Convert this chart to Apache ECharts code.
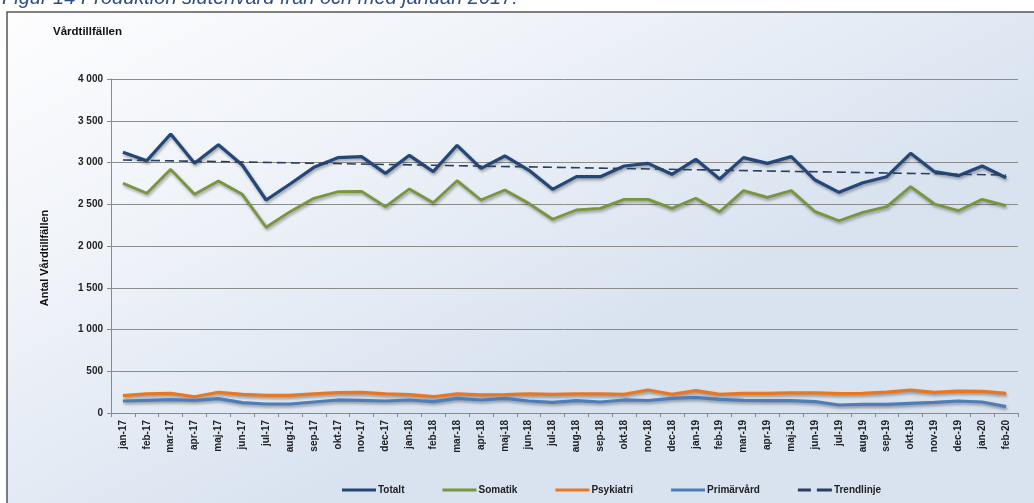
<!DOCTYPE html>
<html>
<head>
<meta charset="utf-8">
<script src="https://cdn.jsdelivr.net/npm/echarts@6/dist/echarts.min.js"></script>
<style>
html,body{margin:0;padding:0;background:#fff;}
#c{width:1034px;height:503px;}
</style>
</head>
<body>
<div id="c"></div>
<script>
const categories = ["jan-17","feb-17","mar-17","apr-17","maj-17","jun-17","jul-17","aug-17","sep-17","okt-17","nov-17","dec-17",
"jan-18","feb-18","mar-18","apr-18","maj-18","jun-18","jul-18","aug-18","sep-18","okt-18","nov-18","dec-18",
"jan-19","feb-19","mar-19","apr-19","maj-19","jun-19","jul-19","aug-19","sep-19","okt-19","nov-19","dec-19",
"jan-20","feb-20"];

const totalt = [3122,3022,3341,2990,3213,2970,2551,2743,2942,3058,3070,2870,
3086,2890,3206,2930,3078,2910,2679,2830,2830,2958,2990,2859,
3038,2802,3058,2990,3070,2790,2643,2758,2830,3110,2890,2842,
2958,2818];

const somatik = [2751,2631,2918,2619,2778,2619,2224,2411,2571,2650,2655,2471,
2683,2519,2782,2551,2671,2511,2320,2431,2451,2559,2559,2451,
2571,2411,2663,2583,2663,2411,2303,2403,2471,2711,2503,2423,
2559,2483];

const psykiatri = [207,228,236,195,248,224,212,212,228,243,248,228,
219,195,228,216,219,228,224,228,228,224,275,224,
267,224,236,236,240,240,232,236,251,275,248,263,
259,236];

const primarvard = [144,152,160,152,172,124,108,108,132,156,152,144,
156,136,176,156,176,144,128,148,132,156,150,176,
188,164,152,148,148,136,96,104,104,116,128,144,
132,76];

const trendStart = 3030;
const trendEnd = 2850;

const yTicks = {min:0, max:4000, interval:500};

const trend = categories.map((c,i)=> i===0 ? trendStart : (i===categories.length-1 ? trendEnd : null));

const chart = echarts.init(document.getElementById('c'), null, {renderer:'canvas'});
const font = 'Liberation Sans, Arial, sans-serif';
const narrow = 'Liberation Sans Narrow, Arial Narrow, Liberation Sans, sans-serif';
const shadow = {shadowColor:'rgba(0,0,0,0.35)', shadowBlur:3, shadowOffsetY:2, shadowOffsetX:1};
const solidIcon = 'path://M0,0H34V3H0Z';
const dashIcon = 'path://M0,0H13V3H0Z M19,0H34V3H19Z';

chart.setOption({
  animation:false,
  backgroundColor:'#ffffff',
  graphic:[
    {type:'rect', z:-10, shape:{x:7, y:12, width:1040, height:500},
     style:{fill:{type:'linear', x:0, y:0, x2:0.25, y2:1, colorStops:[{offset:0,color:'#fdfdfe'},{offset:0.5,color:'#eef2f8'},{offset:1,color:'#d9e3f0'}]},
            stroke:'#555555', lineWidth:1.5}},
    {type:'text', left:2, top:-12, z:10,
     style:{text:'Figur 14 Produktion slutenvård från och med januari 2017:', fill:'#2b4f8a', font:'italic 20px '+font}},
    {type:'text', left:53, top:26, z:10,
     style:{text:'Vårdtillfällen', fill:'#111', font:'bold 11.5px '+font}},
    {type:'text', x:45, y:258, rotation:Math.PI/2, z:10,
     style:{text:'Antal Vårdtillfällen', fill:'#111', font:'bold 11px '+font, align:'center', verticalAlign:'middle'}}
  ],
  grid:{left:111, right:16, top:79, bottom:90, containLabel:false},
  legend:{
    left:337, top:480, itemWidth:34, itemHeight:3, itemGap:38,
    textStyle:{fontFamily:narrow, fontWeight:'bold', fontSize:10, color:'#222', padding:[0,0,0,-3]},
    data:[
      {name:'Totalt', icon:solidIcon},
      {name:'Somatik', icon:solidIcon},
      {name:'Psykiatri', icon:solidIcon},
      {name:'Primärvård', icon:solidIcon},
      {name:'Trendlinje', icon:dashIcon}
    ]
  },
  xAxis:{
    type:'category', data:categories, boundaryGap:true,
    axisLine:{lineStyle:{color:'#8a8a8a', width:1}},
    axisTick:{show:true, length:4, lineStyle:{color:'#8a8a8a'}},
    axisLabel:{rotate:90, interval:0, fontSize:10, fontWeight:'bold', color:'#222', fontFamily:font, margin:7}
  },
  yAxis:{
    type:'value', min:yTicks.min, max:yTicks.max, interval:yTicks.interval,
    axisLine:{show:true, lineStyle:{color:'#8a8a8a', width:1}},
    axisTick:{show:true, length:4, lineStyle:{color:'#8a8a8a'}},
    splitLine:{lineStyle:{color:'#8c8c8c', width:1}},
    axisLabel:{fontSize:10, fontWeight:'bold', color:'#222', fontFamily:font, margin:8,
      formatter:v=> String(v).replace(/\B(?=(\d{3})+(?!\d))/g,' ')}
  },
  series:[
    {name:'Totalt', type:'line', data:totalt, symbol:'none', color:'#24477a',
     lineStyle:Object.assign({width:3.2, color:'#24477a'}, shadow), z:4},
    {name:'Somatik', type:'line', data:somatik, symbol:'none', color:'#77963d',
     lineStyle:Object.assign({width:2.8, color:'#77963d'}, shadow), z:3},
    {name:'Psykiatri', type:'line', data:psykiatri, symbol:'none', color:'#e87722',
     lineStyle:Object.assign({width:3.2, color:'#e87722'}, shadow), z:3},
    {name:'Primärvård', type:'line', data:primarvard, symbol:'none', color:'#4f7db8',
     lineStyle:Object.assign({width:3.2, color:'#4f7db8'}, shadow), z:3},
    {name:'Trendlinje', type:'line', data:trend, connectNulls:true, symbol:'none', color:'#2a3f5f',
     lineStyle:{width:1.6, color:'#2a3f5f', type:[9,5]}, z:5}
  ]
});
</script>
</body>
</html>
